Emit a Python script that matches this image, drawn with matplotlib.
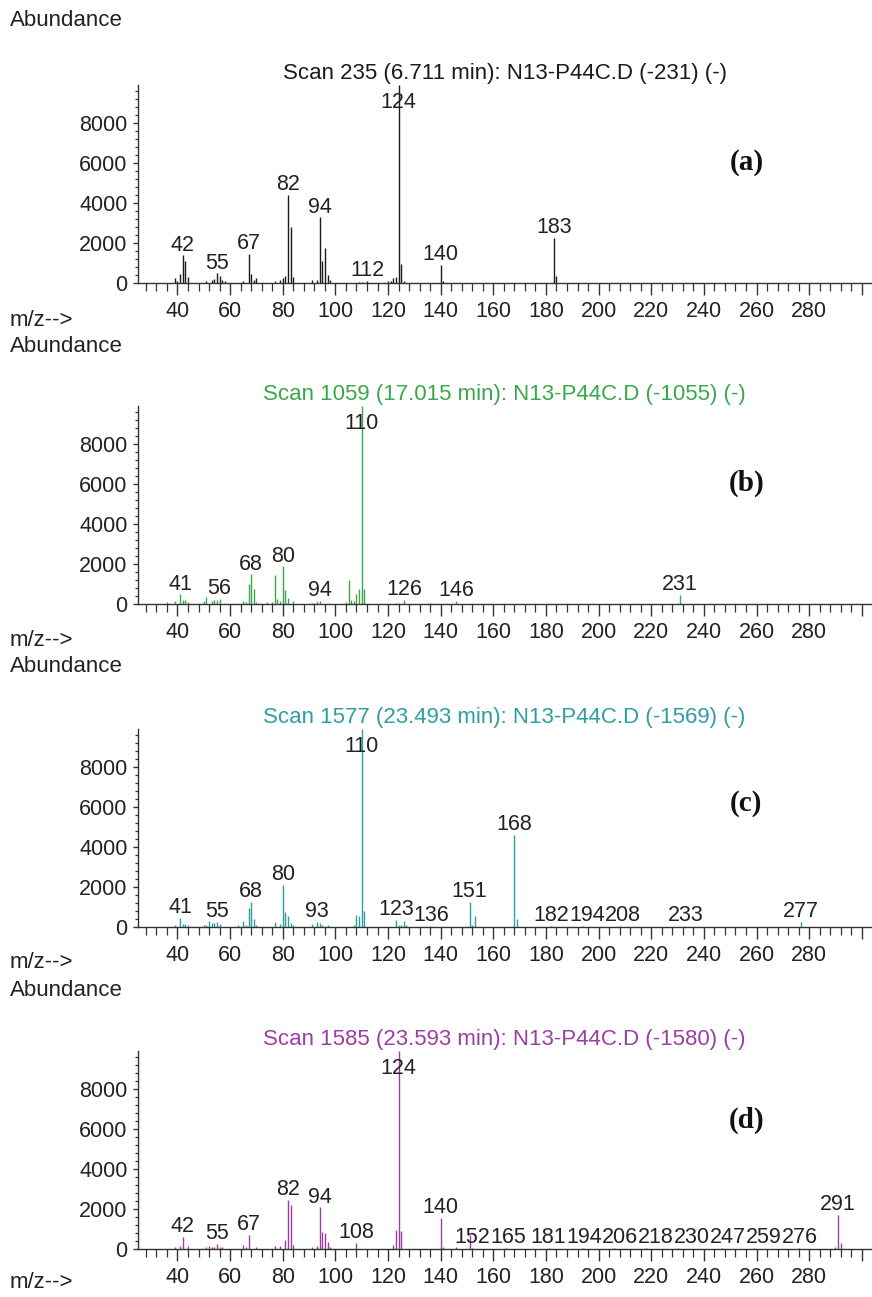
import matplotlib
matplotlib.use("Agg")
import matplotlib.pyplot as plt
from matplotlib.ticker import MultipleLocator, FixedLocator

plt.rcParams['font.family'] = ['Liberation Sans', 'DejaVu Sans']

# (a) scan 235
mz_a = [39, 40, 41, 42, 43, 44, 51, 53, 54, 55, 56, 57, 58, 65, 67, 68, 69, 70,
        77, 79, 80, 81, 82, 83, 84, 91, 93, 94, 95, 96, 97, 98, 109, 110, 112,
        120, 121, 122, 123, 124, 125, 126, 140, 141, 183, 184]
ab_a = [250, 100, 450, 1380, 1080, 280, 80, 170, 220, 480, 330, 150, 120, 120,
        1450, 450, 170, 250, 120, 170, 250, 330, 4420, 2780, 280, 170, 150, 3280,
        1120, 1750, 420, 170, 60, 60, 100, 80, 100, 230, 300, 9900, 950, 80, 920,
        80, 2250, 350]
lab_a = [42, 55, 67, 82, 94, 112, 124, 140, 183]

# (b) scan 1059
mz_b = [36, 39, 41, 42, 43, 44, 50, 51, 53, 54, 55, 56, 65, 66, 67, 68, 69, 70,
        71, 74, 76, 77, 78, 79, 80, 81, 82, 84, 91, 92, 93, 94, 104, 105, 106,
        107, 108, 109, 110, 111, 123, 124, 126, 135, 136, 146, 231]
ab_b = [120, 140, 480, 200, 200, 120, 150, 370, 140, 200, 190, 250, 150, 120,
        1020, 1480, 765, 120, 70, 120, 120, 1430, 250, 150, 1880, 680, 320, 170,
        70, 70, 140, 150, 120, 1220, 200, 150, 510, 765, 9900, 765, 70, 70, 220,
        70, 70, 140, 450]
lab_b = [41, 56, 68, 80, 94, 110, 126, 146, 231]

# (c) scan 1577
mz_c = [39, 41, 42, 43, 44, 50, 51, 52, 53, 54, 55, 56, 63, 65, 66, 67, 68, 69,
        70, 77, 79, 80, 81, 82, 83, 84, 91, 93, 94, 95, 97, 107, 108, 109, 110,
        111, 123, 124, 125, 126, 127, 136, 151, 152, 153, 168, 169, 182, 194,
        208, 233, 277]
ab_c = [120, 440, 150, 140, 85, 85, 120, 290, 200, 190, 255, 170, 85, 305, 120,
        970, 1275, 390, 85, 255, 170, 2090, 730, 540, 200, 120, 170, 240, 200,
        120, 85, 120, 600, 560, 9900, 820, 340, 85, 85, 320, 120, 70, 1250, 85,
        550, 4600, 420, 60, 60, 60, 60, 250]
lab_c = [41, 55, 68, 80, 93, 110, 123, 136, 151, 168, 182, 194, 208, 233, 277]

# (d) scan 1585
mz_d = [39, 41, 42, 44, 51, 52, 53, 54, 55, 56, 57, 65, 66, 67, 70, 77, 79, 81,
        82, 83, 84, 91, 93, 94, 95, 96, 97, 98, 108, 122, 123, 124, 125, 140,
        141, 146, 151, 152, 165, 181, 194, 206, 218, 230, 247, 259, 276, 290,
        291, 292]
ab_d = [120, 170, 620, 140, 100, 170, 120, 110, 240, 110, 120, 220, 100, 690,
        100, 155, 140, 450, 2460, 2200, 220, 100, 140, 2080, 840, 810, 340, 100,
        310, 220, 940, 9900, 880, 1560, 100, 80, 700, 60, 50, 50, 50, 50, 50, 50,
        50, 50, 50, 100, 1720, 300]
lab_d = [42, 55, 67, 82, 94, 108, 124, 140, 152, 165, 181, 194, 206, 218, 230,
         247, 259, 276, 291]

titles = ["Scan 235 (6.711 min): N13-P44C.D (-231) (-)",
          "Scan 1059 (17.015 min): N13-P44C.D (-1055) (-)",
          "Scan 1577 (23.493 min): N13-P44C.D (-1569) (-)",
          "Scan 1585 (23.593 min): N13-P44C.D (-1580) (-)"]
colors = ['#1a1a1a', '#3aa84a', '#2e9ea3', '#9a3ea2']
tags = ['(a)', '(b)', '(c)', '(d)']
tag_y = [0.611, 0.611, 0.626, 0.65]
panels = [(mz_a, ab_a, lab_a), (mz_b, ab_b, lab_b),
          (mz_c, ab_c, lab_c), (mz_d, ab_d, lab_d)]

W, H = 872, 1297
bottoms = [283, 604, 927, 1249]
abund_y = [20, 346, 667, 990]
mz_y = [320, 641, 963, 1283]
YMAX = 9900

fig = plt.figure(figsize=(W / 100, H / 100), dpi=100)
txt = '#222222'
all_labels = []

for i, (mz, ab, lab) in enumerate(panels):
    b = bottoms[i]
    ax = fig.add_axes([138 / W, 1 - b / H, (871 - 138) / W, 198 / H])
    ax.vlines(mz, 0, ab, color=colors[i], linewidth=1.0)
    ax.set_xlim(25, 303.5)
    ax.set_ylim(0, YMAX)
    for s in ['top', 'right']:
        ax.spines[s].set_visible(False)
    for s in ['left', 'bottom']:
        ax.spines[s].set_color('#333333')
        ax.spines[s].set_linewidth(1.0)

    ax.xaxis.set_major_locator(FixedLocator(list(range(40, 301, 20))))
    ax.set_xticklabels([str(v) if v <= 280 else '' for v in range(40, 301, 20)])
    ax.xaxis.set_minor_locator(MultipleLocator(4))
    ax.set_yticks([0, 2000, 4000, 6000, 8000])
    ax.yaxis.set_minor_locator(MultipleLocator(400))
    ax.tick_params(axis='x', which='major', direction='out', length=8.5,
                   width=1.0, pad=4.5, labelsize=15.5, colors='#333333',
                   labelcolor=txt)
    ax.tick_params(axis='x', which='minor', direction='out', length=5.5,
                   width=0.9, colors='#333333')
    ax.tick_params(axis='y', which='major', direction='out', length=3.5,
                   width=1.0, pad=4, labelsize=15.5, colors='#333333',
                   labelcolor=txt)
    ax.tick_params(axis='y', which='minor', direction='out', length=2,
                   width=0.9, colors='#333333')

    anns = []
    for m in lab:
        h = ab[mz.index(m)]
        if h >= YMAX:
            a = ax.annotate(str(m), xy=(m, YMAX), xytext=(0, -5),
                            textcoords='offset points', ha='center', va='top',
                            fontsize=15.5, color=txt)
        else:
            a = ax.annotate(str(m), xy=(m, h), xytext=(0, 3.5),
                            textcoords='offset points', ha='center',
                            va='baseline', fontsize=15.5, color=txt)
        anns.append(a)
    all_labels.append(anns)

    ax.set_title(titles[i], fontsize=16, color=colors[i], pad=4)
    ax.text(0.83, tag_y[i], tags[i], transform=ax.transAxes,
            fontfamily='Liberation Serif', fontweight='bold', fontsize=21,
            ha='center', va='center', color='#111111')

    fig.text(10 / W, 1 - abund_y[i] / H, 'Abundance', fontsize=16,
             ha='left', va='center', color=txt)
    fig.text(10 / W, 1 - mz_y[i] / H, 'm/z-->', fontsize=16,
             ha='left', va='center', color=txt)

# push peak labels right when they would run into the previous one
fig.canvas.draw()
r = fig.canvas.get_renderer()
for anns in all_labels:
    prev = None
    for a in anns:
        bb = a.get_window_extent(r)
        if prev is not None and bb.x0 < prev.x1 and bb.y0 < prev.y1 and bb.y1 > prev.y0:
            dx = (prev.x1 - bb.x0) * 72 / fig.dpi
            ox, oy = a.xyann
            a.xyann = (ox + dx, oy)
            bb = a.get_window_extent(r)
        prev = bb

fig.savefig('out.png', dpi=100)
